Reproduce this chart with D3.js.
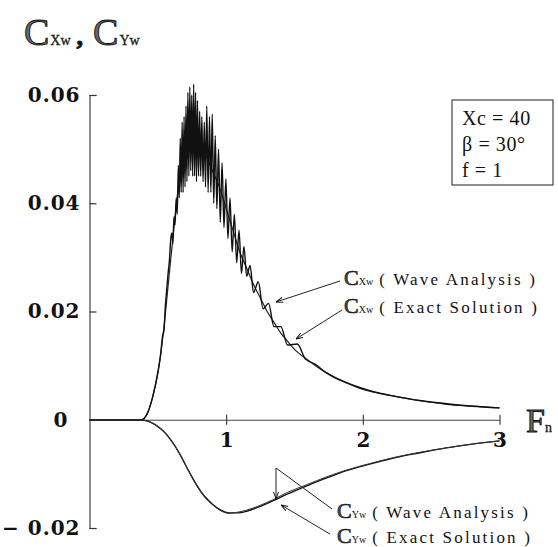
<!DOCTYPE html>
<html><head><meta charset="utf-8">
<script src="https://cdn.jsdelivr.net/npm/d3@7"></script>
<style>
html,body{margin:0;padding:0;background:#fff;}
svg{display:block;}
</style></head>
<body>
<script>
// ---- data ----
const cxExactFn  = [0,0.38,0.42,0.46,0.50,0.54,0.58,0.62,0.66,0.70,0.75,0.80,0.85,0.90,0.95,1.00,1.05,1.10,1.15,1.20,1.25,1.30,1.35,1.40,1.45,1.50,1.60,1.70,1.80,1.90,2.00,2.20,2.40,2.60,2.80,3.00];
const cxExactVal = [0,0,0.001,0.004,0.0085,0.016,0.026,0.036,0.045,0.050,0.053,0.052,0.049,0.046,0.043,0.039,0.035,0.031,0.028,0.025,0.0225,0.020,0.018,0.016,0.0145,0.013,0.011,0.0092,0.0078,0.0067,0.0058,0.0045,0.0036,0.0029,0.0025,0.0022];

const cxWaveFn  = [0,0.38,0.42,0.46,0.50,0.52,0.535,0.545,0.555,0.565,0.575,0.585,0.595,0.603,0.610,0.618,0.626,0.634,0.642,0.650,0.657,0.664,0.671,0.678,0.685,0.692,0.699,0.706,0.713,0.720,0.727,0.734,0.741,0.748,0.755,0.762,0.769,0.776,0.783,0.790,0.798,0.806,0.814,0.822,0.831,0.840,0.849,0.858,0.868,0.878,0.888,0.898,0.909,0.920,0.932,0.944,0.957,0.970,0.984,0.998,1.013,1.028,1.044,1.060,1.077,1.094,1.112,1.130,1.150,1.175,1.200,1.235,1.270,1.310,1.350,1.400,1.450,1.520,1.580,1.650,1.720,1.800,1.880,1.960,2.050,2.200,2.400,2.600,2.800,3.000];
const cxWaveVal = [0,0,0.001,0.004,0.0088,0.012,0.0155,0.0165,0.021,0.024,0.027,0.0295,0.0335,0.0345,0.0325,0.0375,0.036,0.041,0.038,0.047,0.041,0.052,0.042,0.055,0.042,0.056,0.043,0.058,0.044,0.0605,0.045,0.0615,0.046,0.060,0.045,0.062,0.045,0.0605,0.044,0.059,0.045,0.057,0.045,0.056,0.044,0.055,0.043,0.058,0.042,0.056,0.042,0.0565,0.040,0.0525,0.039,0.050,0.0365,0.0475,0.0355,0.0445,0.0335,0.041,0.031,0.038,0.029,0.035,0.027,0.032,0.0265,0.0285,0.0235,0.0255,0.0205,0.0215,0.0172,0.0172,0.0138,0.0140,0.0112,0.0103,0.0089,0.0077,0.0068,0.0060,0.0053,0.0045,0.0036,0.0030,0.0025,0.0022];

const cyExactFn  = [0,0.36,0.42,0.48,0.54,0.60,0.66,0.72,0.78,0.84,0.90,0.96,1.02,1.08,1.15,1.25,1.34,1.45,1.59,1.73,1.88,2.05,2.24,2.42,2.61,2.80,3.00];
const cyExactVal = [0,0,-0.0002,-0.0009,-0.0021,-0.0039,-0.0063,-0.0092,-0.0119,-0.0141,-0.0156,-0.0167,-0.0172,-0.0172,-0.0169,-0.0160,-0.0150,-0.0137,-0.0122,-0.0108,-0.0094,-0.0082,-0.0070,-0.0061,-0.0052,-0.0045,-0.0039];
const cyWaveFn  = [0,0.36,0.42,0.48,0.54,0.60,0.66,0.72,0.78,0.84,0.90,0.96,1.02,1.08,1.15,1.25,1.34,1.45,1.59,1.73,1.88,2.05,2.24,2.42,2.61,2.80,3.00];
const cyWaveVal = [0,0,-0.0002,-0.0009,-0.0021,-0.0039,-0.0063,-0.0092,-0.0120,-0.0142,-0.0157,-0.0168,-0.0173,-0.0171,-0.0167,-0.0158,-0.0148,-0.0134,-0.0120,-0.0106,-0.0093,-0.0081,-0.0069,-0.0060,-0.0052,-0.0045,-0.0039];

const yTicks = [0.06,0.04,0.02,0,-0.02];
const yTickLabels = ["0.06","0.04","0.02","0","\u2212 0.02"];
const xTicks = [1,2,3];
const xTickLabels = ["1","2","3"];
const paramLines = ["Xc = 40","\u03B2 = 30\u00B0","f = 1"];
const annotationNames = ["( Wave Analysis )","( Exact Solution )","( Wave Analysis )","( Exact Solution )"];

// ---- drawing ----
const W = 558, H = 547;
const svg = d3.select("body").append("svg").attr("width", W).attr("height", H);
const x = d3.scaleLinear().domain([0,3]).range([89.5,499.5]);
const y = d3.scaleLinear().domain([-0.02,0.06]).range([528,95]);
const serif = "'DejaVu Serif', 'Liberation Serif', serif";
const serif2 = "'Liberation Serif', 'DejaVu Serif', serif";

svg.append("defs").append("marker")
  .attr("id","arr").attr("viewBox","0 0 10 10").attr("refX",10).attr("refY",5)
  .attr("markerWidth",7).attr("markerHeight",7).attr("orient","auto-start-reverse")
  .append("path").attr("d","M0,1.5 L10,5 L0,8.5").attr("fill","none").attr("stroke","#111").attr("stroke-width",1.4);

// y axis
const yAxis = d3.axisLeft(y).tickValues(yTicks).tickSizeInner(-7).tickSizeOuter(-7).tickPadding(9)
  .tickFormat((d,i)=>yTickLabels[i]);
const gy = svg.append("g").attr("transform",`translate(${x(0)},0)`).call(yAxis);
gy.select(".domain").attr("stroke","#444").attr("stroke-width",1.2);
gy.selectAll(".tick line").attr("stroke","#333").attr("stroke-width",1.2)
  .attr("opacity",(d)=> (d===0?0:1));
gy.selectAll(".tick text").attr("font-family",serif).attr("font-weight","bold")
  .attr("font-size",20).attr("letter-spacing",1).attr("fill","#111")
  .attr("dx", d => d===0 ? -12 : 0);

// x axis
const xAxis = d3.axisBottom(x).tickValues(xTicks).tickSizeInner(5).tickSizeOuter(0).tickPadding(8)
  .tickFormat((d,i)=>xTickLabels[i]);
const gx = svg.append("g").attr("transform",`translate(0,${y(0)})`).call(xAxis);
gx.select(".domain").attr("stroke","#444").attr("stroke-width",1.2);
gx.selectAll(".tick line").attr("y1",-5).attr("y2",5).attr("stroke","#333").attr("stroke-width",1.1);
gx.selectAll(".tick text").attr("font-family",serif).attr("font-weight","bold")
  .attr("font-size",20).attr("fill","#111");

// curves
function pts(fn, val){ return fn.map((f,i)=>[f,val[i]]); }
const lineSmooth = d3.line().x(d=>x(d[0])).y(d=>y(d[1])).curve(d3.curveMonotoneX);

svg.append("path").datum(pts(cxExactFn,cxExactVal)).attr("d",lineSmooth)
  .attr("fill","none").attr("stroke","#222").attr("stroke-width",1.2);
svg.append("path").datum(pts(cxWaveFn,cxWaveVal)).attr("d",lineSmooth)
  .attr("fill","none").attr("stroke","#111").attr("stroke-width",1.4).attr("stroke-linejoin","round");
svg.append("path").datum(pts(cyExactFn,cyExactVal)).attr("d",lineSmooth)
  .attr("fill","none").attr("stroke","#111").attr("stroke-width",1.4);
svg.append("path").datum(pts(cyWaveFn,cyWaveVal)).attr("d",lineSmooth)
  .attr("fill","none").attr("stroke","#333").attr("stroke-width",1.0);

// title
const title = svg.append("text").attr("x",24).attr("y",45).attr("font-family",serif2).attr("fill","#666")
  .attr("stroke","#111").attr("stroke-width",0.9);
title.append("tspan").attr("font-size",38).text("C");
title.append("tspan").attr("font-size",14).attr("dx",1).attr("stroke-width",0.3).attr("fill","#222").text("Xw");
title.append("tspan").attr("font-size",26).attr("font-weight","bold").attr("dx",6).attr("fill","#111").text(",");
title.append("tspan").attr("font-size",38).attr("dx",10).text("C");
title.append("tspan").attr("font-size",14).attr("dx",1).attr("stroke-width",0.3).attr("fill","#222").text("Yw");

// Fn label
const fl = svg.append("text").attr("x",526).attr("y",432).attr("font-family",serif2).attr("fill","#666")
  .attr("stroke","#111").attr("stroke-width",0.9);
fl.append("tspan").attr("font-size",34).text("F");
fl.append("tspan").attr("font-size",14).attr("stroke-width",0.3).attr("fill","#222").text("n");

// parameter box
svg.append("rect").attr("x",452).attr("y",100).attr("width",101).attr("height",85)
  .attr("fill","none").attr("stroke","#333").attr("stroke-width",1.1);
svg.selectAll("text.param").data(paramLines).enter().append("text").attr("class","param")
  .attr("x",462).attr("y",(d,i)=>125+i*26).attr("font-family",serif2).attr("font-size",20)
  .attr("letter-spacing",0.6).attr("fill","#111").text(d=>d);

// annotations
const ann = [
  {tx:344, ty:285, sub:"X", from:[340,281], to:[276,302], name:annotationNames[0]},
  {tx:344, ty:313, sub:"X", from:[342,310], to:[296,339], name:annotationNames[1]},
  {tx:337, ty:518, sub:"Y", from:[332,509], to:[276,468], name:annotationNames[2]},
  {tx:337, ty:543, sub:"Y", from:[330,534], to:[281,505], name:annotationNames[3]}
];
ann.forEach((a,i)=>{
  const t = svg.append("text").attr("x",a.tx).attr("y",a.ty).attr("font-family",serif2).attr("fill","#111");
  t.append("tspan").attr("font-size",22).attr("fill","#444").attr("stroke","#111").attr("stroke-width",0.6).text("C");
  t.append("tspan").attr("font-size",10).text(a.sub+"w");
  t.append("tspan").attr("font-size",17).attr("dx",6).attr("letter-spacing",2.2).text(a.name);
  if(i===2){
    svg.append("path").attr("d",`M${a.from[0]},${a.from[1]}L${a.to[0]},${a.to[1]}L${a.to[0]},${a.to[1]+31}`)
      .attr("fill","none").attr("stroke","#222").attr("stroke-width",1).attr("marker-end","url(#arr)");
  } else {
    svg.append("line").attr("x1",a.from[0]).attr("y1",a.from[1]).attr("x2",a.to[0]).attr("y2",a.to[1])
      .attr("stroke","#222").attr("stroke-width",1).attr("marker-end","url(#arr)");
  }
});
</script>
</body></html>
